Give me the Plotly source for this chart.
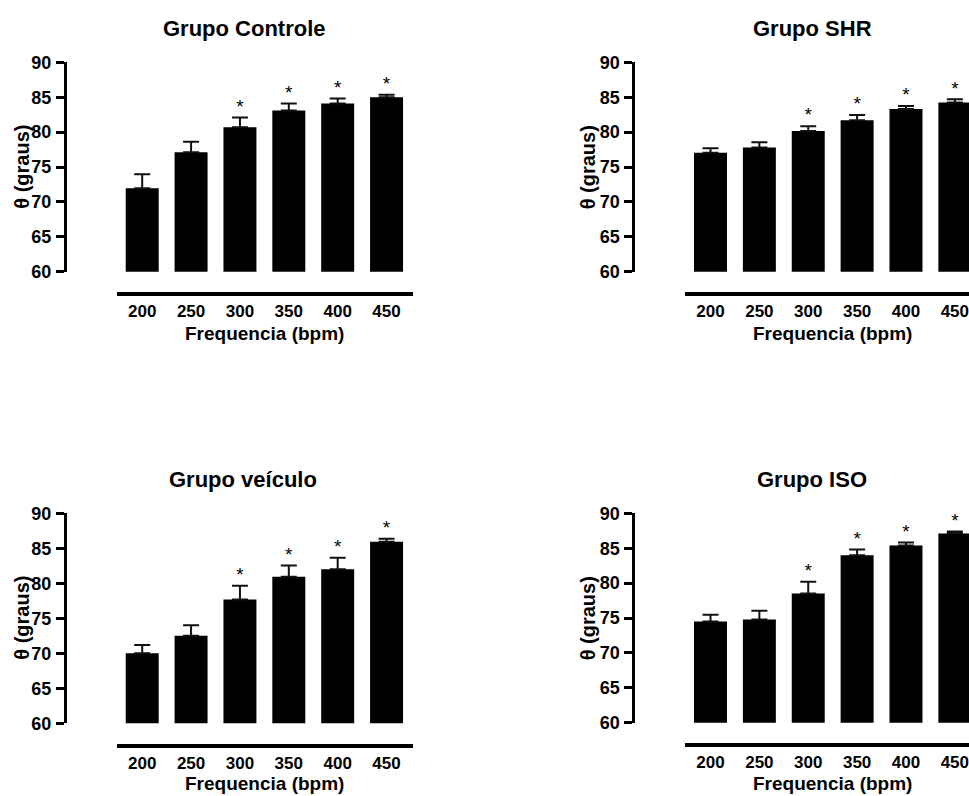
import plotly.graph_objects as go

W, H = 969, 796

freq_labels = ["200", "250", "300", "350", "400", "450"]

controle_vals = [71.95, 77.1, 80.7, 83.1, 84.1, 85.0]
controle_err = [2.0, 1.5, 1.4, 1.0, 0.7, 0.35]
controle_sig = ["", "", "*", "*", "*", "*"]

shr_vals = [77.05, 77.8, 80.15, 81.7, 83.3, 84.25]
shr_err = [0.65, 0.75, 0.7, 0.75, 0.45, 0.45]
shr_sig = ["", "", "*", "*", "*", "*"]

veiculo_vals = [70.0, 72.5, 77.7, 80.95, 82.0, 85.95]
veiculo_err = [1.2, 1.5, 1.95, 1.6, 1.65, 0.4]
veiculo_sig = ["", "", "*", "*", "*", "*"]

iso_vals = [74.5, 74.8, 78.5, 84.0, 85.4, 87.1]
iso_err = [0.95, 1.25, 1.7, 0.8, 0.43, 0.3]
iso_sig = ["", "", "*", "*", "*", "*"]

titles = ["Grupo Controle", "Grupo SHR", "Grupo veículo", "Grupo ISO"]
x_title = "Frequencia (bpm)"
y_title = "θ (graus)"
y_ticks = [60, 65, 70, 75, 80, 85, 90]

FONT = "Liberation Sans, Arial, Helvetica, sans-serif"

def fx(px):
    return px / W

def fy(py):
    return 1 - py / H

SPACING = 48.87  # pixels per category
FIRST_OFFSET = 25.5  # pixels from axis-line start to first category centre

panels = [
    dict(vals=controle_vals, err=controle_err, sig=controle_sig, title=titles[0],
         ytop=62.3, ybot=271.7, yaxis_x=65, xl=116.7, xr=413.3, xline=294,
         title_xy=(244, 28.3), xt_xy=(264, 333.5), yt_xy=(21.7, 167)),
    dict(vals=shr_vals, err=shr_err, sig=shr_sig, title=titles[1],
         ytop=62.3, ybot=271.7, yaxis_x=633.3, xl=685, xr=981.6, xline=294,
         title_xy=(812.3, 28.3), xt_xy=(832.5, 333.5), yt_xy=(588.3, 167)),
    dict(vals=veiculo_vals, err=veiculo_err, sig=veiculo_sig, title=titles[2],
         ytop=513.3, ybot=723.3, yaxis_x=65, xl=116.7, xr=413.3, xline=746,
         title_xy=(243, 480), xt_xy=(264, 783.5), yt_xy=(21.7, 618)),
    dict(vals=iso_vals, err=iso_err, sig=iso_sig, title=titles[3],
         ytop=513.3, ybot=722.7, yaxis_x=633.3, xl=685, xr=981.6, xline=745.3,
         title_xy=(812.3, 480), xt_xy=(832.5, 783.5), yt_xy=(588.3, 618)),
]

fig = go.Figure()
layout = dict(
    width=W, height=H,
    margin=dict(l=0, r=0, t=0, b=0, pad=0, autoexpand=False),
    paper_bgcolor="white", plot_bgcolor="white",
    showlegend=False, bargap=0.325,
    font=dict(family=FONT, color="black"),
)
annotations = []

for i, p in enumerate(panels, start=1):
    xa = "x" if i == 1 else f"x{i}"
    ya = "y" if i == 1 else f"y{i}"
    xkey = "xaxis" if i == 1 else f"xaxis{i}"
    ykey = "yaxis" if i == 1 else f"yaxis{i}"

    fig.add_trace(go.Bar(
        x=freq_labels, y=p["vals"], xaxis=xa, yaxis=ya,
        marker=dict(color="black", line=dict(width=0)),
        error_y=dict(type="data", symmetric=False, array=p["err"],
                     arrayminus=[0] * len(p["err"]), color="#111111",
                     thickness=2, width=8),
    ))
    tops = [v + e for v, e in zip(p["vals"], p["err"])]
    fig.add_trace(go.Scatter(
        x=freq_labels, y=tops, xaxis=xa, yaxis=ya, mode="text",
        text=p["sig"], textposition="top center",
        textfont=dict(family=FONT, size=19, color="black"),
        cliponaxis=False, hoverinfo="skip",
    ))

    xl = p["xl"]
    xr = min(p["xr"], W)
    rng_start = -FIRST_OFFSET / SPACING
    rng_end = rng_start + (xr - xl) / SPACING
    layout[xkey] = dict(
        domain=[fx(xl), fx(xr)], anchor="free", position=fy(p["xline"]),
        range=[rng_start, rng_end], type="category",
        showline=True, linecolor="black", linewidth=3.5,
        ticks="", showgrid=False, zeroline=False, automargin=False,
        tickfont=dict(family=FONT, size=17, color="black", weight="bold"),
        ticklabelstandoff=1, fixedrange=True,
    )
    layout[ykey] = dict(
        domain=[fy(p["ybot"]), fy(p["ytop"])], anchor="free",
        position=fx(p["yaxis_x"]),
        range=[60, 90], tickvals=y_ticks,
        showline=True, linecolor="black", linewidth=3,
        ticks="outside", ticklen=8, tickwidth=2.5, tickcolor="black",
        showgrid=False, zeroline=False, automargin=False,
        tickfont=dict(family=FONT, size=18, color="black", weight="bold"),
        ticklabelstandoff=1, fixedrange=True,
    )
    annotations.append(dict(
        text=p["title"], x=fx(p["title_xy"][0]), y=fy(p["title_xy"][1]),
        xref="paper", yref="paper", showarrow=False,
        xanchor="center", yanchor="middle",
        font=dict(family=FONT, size=22, color="black", weight="bold")))
    annotations.append(dict(
        text=x_title, x=fx(p["xt_xy"][0]), y=fy(p["xt_xy"][1]),
        xref="paper", yref="paper", showarrow=False,
        xanchor="center", yanchor="middle",
        font=dict(family=FONT, size=19, color="black", weight="bold")))
    annotations.append(dict(
        text=y_title, x=fx(p["yt_xy"][0]), y=fy(p["yt_xy"][1]),
        xref="paper", yref="paper", showarrow=False, textangle=-90,
        xanchor="center", yanchor="middle",
        font=dict(family=FONT, size=20, color="black", weight="bold")))

layout["annotations"] = annotations
fig.update_layout(**layout)
fig.write_html("out.html", config={"displayModeBar": False},
               post_script="document.body.style.margin='0';document.body.style.padding='0';")
